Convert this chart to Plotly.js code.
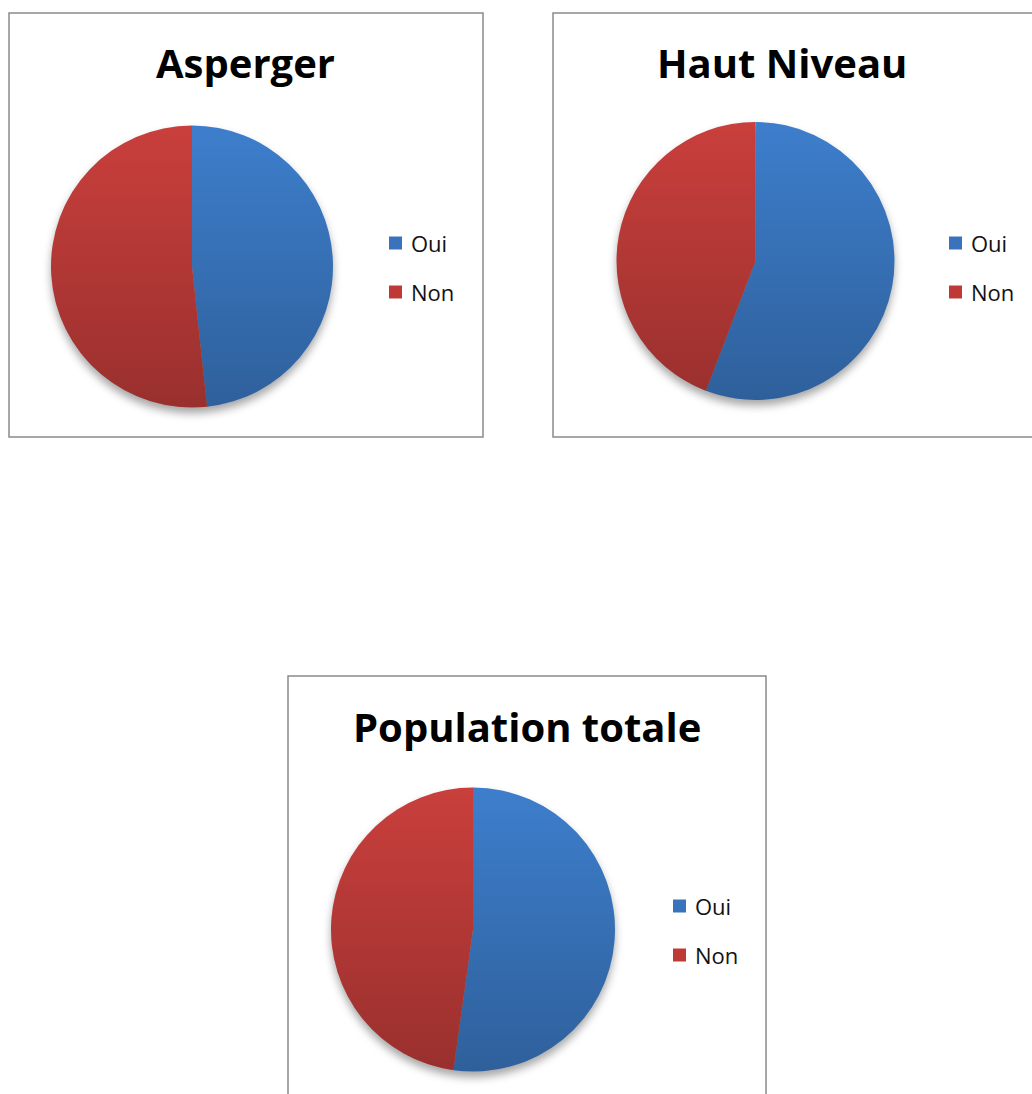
<!DOCTYPE html>
<html>
<head>
<meta charset="utf-8">
<script src="https://cdn.plot.ly/plotly-3.0.1.min.js"></script>
<style>html,body{margin:0;padding:0;background:#fff;}#chart{width:1032px;height:1094px;}</style>
</head>
<body>
<div id="chart"></div>
<script>
// ---- data ----
const labels = ['Oui', 'Non'];
const titles = ['Asperger', 'Haut Niveau', 'Population totale'];
const aspergerValues = [48.3, 51.7];
const hautNiveauValues = [55.8, 44.2];
const populationValues = [52.2, 47.8];
const sliceColors = ['#3d7ecc', '#c93f3c'];
const legendColors = ['#3a73bd', '#bf3a37'];

// ---- layout geometry (pixels) ----
const W = 1032, H = 1094;
const panels = [
  {values: aspergerValues,   title: titles[0], cx: 192,   cy: 266.5, r: 141, tx: 245,   ty: 63,  box: [9, 13, 483, 437],   lx: 389, ly: 243},
  {values: hautNiveauValues, title: titles[1], cx: 755.5, cy: 261,   r: 139, tx: 781.5, ty: 63,  box: [553, 13, 1060, 437], lx: 949, ly: 243},
  {values: populationValues, title: titles[2], cx: 473,   cy: 929.5, r: 142, tx: 526.5, ty: 726, box: [288, 676, 766, 1120], lx: 673, ly: 906}
];
const fx = x => x / W;
const fy = y => 1 - y / H;

const overlaySvg = 'data:image/svg+xml;utf8,' + encodeURIComponent(
  '<svg xmlns="http://www.w3.org/2000/svg" width="200" height="200" viewBox="0 0 200 200">' +
  '<defs><linearGradient id="g" x1="0" y1="0" x2="0" y2="1">' +
  '<stop offset="0" stop-color="#000" stop-opacity="0"/>' +
  '<stop offset="1" stop-color="#000" stop-opacity="0.24"/></linearGradient></defs>' +
  '<circle cx="100" cy="100" r="100" fill="url(#g)"/></svg>');
const shadowSvg = 'data:image/svg+xml;utf8,' + encodeURIComponent(
  '<svg xmlns="http://www.w3.org/2000/svg" width="240" height="240" viewBox="0 0 240 240">' +
  '<defs><filter id="b" x="-20%" y="-20%" width="140%" height="140%"><feGaussianBlur stdDeviation="3"/></filter></defs>' +
  '<circle cx="120" cy="124" r="100" fill="#000" fill-opacity="0.35" filter="url(#b)"/></svg>');

const traces = [];
const annotations = [];
const shapes = [];
const images = [];

panels.forEach(p => {
  traces.push({
    type: 'pie',
    labels: labels,
    values: p.values,
    sort: false,
    direction: 'clockwise',
    rotation: 0,
    textinfo: 'none',
    hoverinfo: 'label+percent',
    showlegend: false,
    marker: {colors: sliceColors, line: {width: 0}},
    domain: {x: [fx(p.cx - p.r), fx(p.cx + p.r)], y: [fy(p.cy + p.r), fy(p.cy - p.r)]}
  });
  // panel border
  shapes.push({type: 'rect', xref: 'paper', yref: 'paper',
    x0: fx(p.box[0]), x1: fx(p.box[2]), y0: fy(p.box[3]), y1: fy(p.box[1]),
    line: {color: '#8a8a8a', width: 1.5}, fillcolor: 'rgba(0,0,0,0)'});
  // title
  annotations.push({xref: 'paper', yref: 'paper', x: fx(p.tx), y: fy(p.ty),
    xanchor: 'center', yanchor: 'middle', showarrow: false, text: '<b>' + p.title + '</b>',
    font: {family: 'Open Sans, sans-serif', size: 40, color: '#000'}});
  // legend
  labels.forEach((lab, i) => {
    const yc = p.ly + i * 49;
    shapes.push({type: 'rect', xref: 'paper', yref: 'paper',
      x0: fx(p.lx), x1: fx(p.lx + 13), y0: fy(yc + 6.5), y1: fy(yc - 6.5),
      line: {width: 0}, fillcolor: legendColors[i]});
    annotations.push({xref: 'paper', yref: 'paper', x: fx(p.lx + 20), y: fy(yc),
      xanchor: 'left', yanchor: 'middle', showarrow: false, text: lab,
      font: {family: 'Open Sans, sans-serif', size: 22, color: '#111'}});
  });
  // gradient overlay and shadow
  images.push({source: overlaySvg, xref: 'paper', yref: 'paper',
    x: fx(p.cx - p.r), y: fy(p.cy - p.r), sizex: 2 * p.r / W, sizey: 2 * p.r / H,
    xanchor: 'left', yanchor: 'top', sizing: 'stretch', layer: 'above'});
  const sr = p.r * 1.2;
  images.push({source: shadowSvg, xref: 'paper', yref: 'paper',
    x: fx(p.cx - sr), y: fy(p.cy - sr), sizex: 2 * sr / W, sizey: 2 * sr / H,
    xanchor: 'left', yanchor: 'top', sizing: 'stretch', layer: 'below'});
});

const layout = {
  width: W, height: H,
  margin: {l: 0, r: 0, t: 0, b: 0},
  paper_bgcolor: '#fff', plot_bgcolor: '#fff',
  showlegend: false,
  annotations: annotations, shapes: shapes, images: images
};
Plotly.newPlot('chart', traces, layout, {displayModeBar: false, staticPlot: true});
</script>
</body>
</html>
